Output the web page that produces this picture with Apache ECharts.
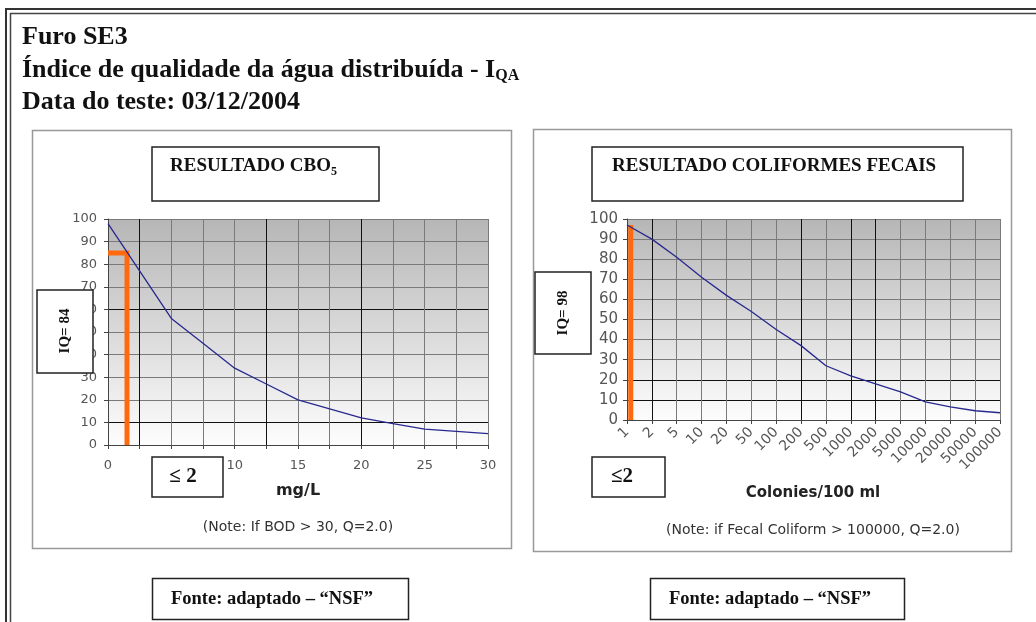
<!DOCTYPE html>
<html>
<head>
<meta charset="utf-8">
<script src="https://cdn.jsdelivr.net/npm/echarts@6/dist/echarts.min.js"></script>
<style>
  html, body { margin: 0; padding: 0; background: #fff; }
  #main { width: 1036px; height: 622px; }
</style>
</head>
<body>
<div id="main"></div>
<script>
// CBO5 (BOD) curve: mg/L -> Q
const bodX = [0, 5, 7.5, 10, 12.5, 15, 17.5, 20, 22.5, 25, 27.5, 30]
const bodQ = [98, 56, 45, 34, 27, 20, 16, 12, 9.5, 7, 6, 5]
const bodResult = 1.5 // <= 2 mg/L
const bodIQ = 85

// fecal coliforms curve: colonies/100 ml -> Q
const fecalLabels = ['1', '2', '5', '10', '20', '50', '100', '200', '500', '1000', '2000', '5000', '10000', '20000', '50000', '100000']
const fecalQ = [97, 90, 81, 71, 62, 54, 45, 37, 27, 22, 18, 14, 9, 6.5, 4.6, 3.6]
const fecalResult = 0.15 // position of "<= 2" on the label scale
const fecalIQ = 97

const chart = echarts.init(document.getElementById('main'))

const SERIF = '"Liberation Serif", "Times New Roman", serif'
const SANS = '"DejaVu Sans", Verdana, sans-serif'
const GRAY = '#7a7a7a'
const DARK = '#111'

// darker grid lines (hand drawn over the Excel chart)
const leftXColors = [DARK, DARK, GRAY, GRAY, GRAY, DARK, GRAY, GRAY, DARK, GRAY, GRAY, GRAY, GRAY]
const leftYColors = [DARK, DARK, GRAY, GRAY, GRAY, GRAY, DARK, GRAY, GRAY, GRAY, GRAY]
const rightXColors = [DARK, DARK, GRAY, GRAY, GRAY, GRAY, GRAY, DARK, GRAY, DARK, DARK, GRAY, GRAY, GRAY, GRAY, GRAY]
const rightYColors = [DARK, DARK, DARK, GRAY, GRAY, GRAY, GRAY, GRAY, GRAY, GRAY, GRAY]

const ctx = document.createElement('canvas').getContext('2d')
function textW(font, s) {
  ctx.font = font
  return ctx.measureText(s).width
}

function gridBg() {
  return new echarts.graphic.LinearGradient(0, 0, 0, 1, [
    { offset: 0, color: '#b6b6b6' },
    { offset: 1, color: '#fdfdfd' }
  ])
}

function valueAxis(grid, min, max, interval, colors, label) {
  return {
    type: 'value',
    gridIndex: grid,
    min: min,
    max: max,
    interval: interval,
    axisLine: { show: true, onZero: false, lineStyle: { color: '#444', width: 1 } },
    axisTick: { show: true, length: 4, lineStyle: { color: '#444' } },
    splitLine: { show: true, lineStyle: { color: colors, width: 1 } },
    axisLabel: Object.assign({ fontFamily: SANS, fontSize: 13, color: '#555' }, label)
  }
}

function txt(x, y, text, font, opts) {
  return Object.assign({
    type: 'text',
    x: x,
    y: y,
    z: 20,
    style: Object.assign({
      text: text,
      font: font,
      fill: '#111',
      align: 'left',
      verticalAlign: 'middle',
      textAlign: 'left',
      textVerticalAlign: 'middle'
    }, opts && opts.style)
  }, opts && opts.el)
}

function box(x, y, w, h, stroke, lw, fill) {
  return {
    type: 'rect',
    z: 15,
    shape: { x: x, y: y, width: w, height: h },
    style: { fill: fill || '#fff', stroke: stroke || '#222', lineWidth: lw || 1.5 }
  }
}

function line(x1, y1, x2, y2, color, lw) {
  return {
    type: 'line',
    z: 20,
    shape: { x1: x1, y1: y1, x2: x2, y2: y2 },
    style: { stroke: color, lineWidth: lw }
  }
}

const hFont = 'bold 26px ' + SERIF
const hSub = 'bold 16px ' + SERIF
const h2 = 'Índice de qualidade da água distribuída - I'
const tFont = 'bold 19px ' + SERIF
const tSub = 'bold 12px ' + SERIF
const boxFont = 'bold 15px ' + SERIF
const leFont = 'bold 21px ' + SERIF
const srcFont = 'bold 18.5px ' + SERIF
const center = { style: { align: 'center', textAlign: 'center' } }

const graphics = [
  // outer double frame
  line(5, 9, 1036, 9, '#333', 2),
  line(10, 13.5, 1036, 13.5, '#444', 1.5),
  line(6, 8, 6, 622, '#333', 2),
  line(10.5, 13, 10.5, 622, '#444', 1.5),

  // header
  txt(22, 37, 'Furo SE3', hFont),
  txt(22, 70, h2, hFont),
  txt(22 + textW(hFont, h2), 76, 'QA', hSub),
  txt(22, 102, 'Data do teste: 03/12/2004', hFont),

  // chart panels
  { type: 'rect', z: 1, shape: { x: 32.5, y: 130.5, width: 479, height: 418 }, style: { fill: 'none', stroke: '#999', lineWidth: 1.5 } },
  { type: 'rect', z: 1, shape: { x: 533.5, y: 129.5, width: 478, height: 422 }, style: { fill: 'none', stroke: '#999', lineWidth: 1.5 } },

  // chart titles
  box(152, 147, 227, 54),
  txt(170, 166, 'RESULTADO CBO', tFont),
  txt(170 + textW(tFont, 'RESULTADO CBO'), 172, '5', tSub),
  box(592, 147, 371, 54),
  txt(612, 166, 'RESULTADO COLIFORMES FECAIS', tFont),

  // IQ boxes
  box(37, 290, 56, 83),
  txt(65, 331, 'IQ= 84', boxFont, { el: { rotation: Math.PI / 2 }, style: center.style }),
  box(535, 272, 56, 82),
  txt(563, 313, 'IQ= 98', boxFont, { el: { rotation: Math.PI / 2 }, style: center.style }),

  // result boxes
  box(152, 457, 71, 40),
  txt(183, 477, '≤ 2', leFont, center),
  box(592, 457, 73, 40),
  txt(622, 477, '≤2', leFont, center),

  // axis names and notes
  txt(298, 491, 'mg/L', 'bold 16px ' + SANS, { style: { align: 'center', textAlign: 'center', fill: '#222' } }),
  txt(298, 527, '(Note: If BOD > 30, Q=2.0)', '14px ' + SANS, { style: { align: 'center', textAlign: 'center', fill: '#333' } }),
  txt(813, 493, 'Colonies/100 ml', 'bold 15px ' + SANS, { style: { align: 'center', textAlign: 'center', fill: '#222' } }),
  txt(813, 530, '(Note: if Fecal Coliform > 100000, Q=2.0)', '14px ' + SANS, { style: { align: 'center', textAlign: 'center', fill: '#333' } }),

  // source boxes
  box(152.5, 578.5, 256, 41),
  txt(171, 599, 'Fonte: adaptado – “NSF”', srcFont),
  box(650.5, 578.5, 254, 41),
  txt(669, 599, 'Fonte: adaptado – “NSF”', srcFont)
]

const option = {
  animation: false,
  backgroundColor: '#fff',
  grid: [
    { left: 108, top: 219, width: 380, height: 226, show: true, backgroundColor: gridBg(), borderWidth: 0 },
    { left: 627, top: 219, width: 373, height: 201, show: true, backgroundColor: gridBg(), borderWidth: 0 }
  ],
  xAxis: [
    valueAxis(0, 0, 30, 2.5, leftXColors, {
      margin: 14,
      formatter: v => (v % 5 === 0 ? String(v) : '')
    }),
    valueAxis(1, 0, 15, 1, rightXColors, {
      margin: 10,
      rotate: 45,
      fontSize: 14,
      formatter: v => fecalLabels[v] || ''
    })
  ],
  yAxis: [
    valueAxis(0, 0, 100, 10, leftYColors, { margin: 11 }),
    valueAxis(1, 0, 100, 10, rightYColors, { margin: 9, fontSize: 15 })
  ],
  series: [
    {
      type: 'line',
      xAxisIndex: 0,
      yAxisIndex: 0,
      z: 2,
      showSymbol: false,
      lineStyle: { color: '#ff6a10', width: 5, join: 'miter' },
      data: [[0, bodIQ], [bodResult, bodIQ], [bodResult, 0]]
    },
    {
      type: 'line',
      xAxisIndex: 0,
      yAxisIndex: 0,
      z: 3,
      showSymbol: false,
      lineStyle: { color: '#28288f', width: 1.3 },
      data: bodX.map((x, i) => [x, bodQ[i]])
    },
    {
      type: 'line',
      xAxisIndex: 1,
      yAxisIndex: 1,
      z: 2,
      showSymbol: false,
      lineStyle: { color: '#ff6a10', width: 5 },
      data: [[fecalResult, 0], [fecalResult, fecalIQ]]
    },
    {
      type: 'line',
      xAxisIndex: 1,
      yAxisIndex: 1,
      z: 3,
      showSymbol: false,
      lineStyle: { color: '#28288f', width: 1.3 },
      data: fecalQ.map((q, i) => [i, q])
    }
  ],
  graphic: graphics
}

chart.setOption(option)
</script>
</body>
</html>
